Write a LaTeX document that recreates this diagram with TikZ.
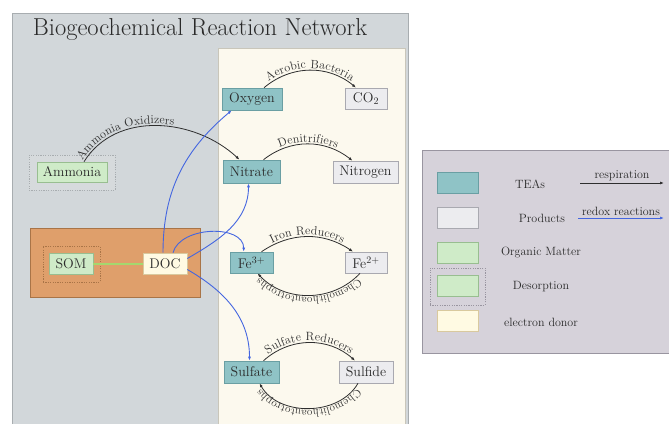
\documentclass[tikz,border=0pt]{standalone}
\usetikzlibrary{arrows.meta,decorations.text}
\definecolor{panelfill}{HTML}{D2D7DA}
\definecolor{panelborder}{HTML}{A8ADB0}
\definecolor{creamfill}{HTML}{FCF9EE}
\definecolor{creamborder}{HTML}{C9C6BA}
\definecolor{teafill}{HTML}{8FC3C6}
\definecolor{teaborder}{HTML}{6A9FA3}
\definecolor{prodfill}{HTML}{ECECEF}
\definecolor{prodborder}{HTML}{A9A9B0}
\definecolor{orgfill}{HTML}{CFEBC8}
\definecolor{orgborder}{HTML}{98BE90}
\definecolor{orangefill}{HTML}{DF9F6B}
\definecolor{orangeborder}{HTML}{A97447}
\definecolor{docfill}{HTML}{FFFAE3}
\definecolor{docborder}{HTML}{D9C99E}
\definecolor{legfill}{HTML}{D6D2DA}
\definecolor{legborder}{HTML}{9995A0}
\definecolor{blueline}{HTML}{4466E0}
\definecolor{greenline}{HTML}{A4D86E}
\definecolor{arcgray}{HTML}{2E2E2E}
\definecolor{txt}{HTML}{2A2A2A}
\definecolor{grpfill}{HTML}{D6DADC}
\newcommand{\nodefont}{\fontsize{14}{16}\selectfont}
\newcommand{\arcfont}{\fontsize{12}{14}\selectfont}
\newcommand{\chemofont}{\fontsize{11}{13}\selectfont}
\newcommand{\legfont}{\fontsize{12}{14}\selectfont}
\begin{document}
\begin{tikzpicture}[x=1pt,y=1pt,
  box/.style={draw, line width=0.6pt, inner sep=0pt, font=\nodefont, text=txt},
  tea/.style={box, fill=teafill, draw=teaborder},
  prod/.style={box, fill=prodfill, draw=prodborder},
  org/.style={box, fill=orgfill, draw=orgborder},
  donor/.style={box, fill=docfill, draw=docborder},
  grp/.style={draw=#1, dash pattern=on 1.2pt off 1.2pt, line width=0.5pt, inner sep=0pt},
  panel/.style={inner sep=0pt, line width=0.8pt},
  resp/.style={draw=arcgray, line width=0.8pt, -{Latex[length=4pt,width=3pt]}},
  redox/.style={draw=blueline, line width=0.9pt, -{Latex[length=4pt,width=3pt]}},
  lbl/.style args={#1/#2}{postaction={decorate,decoration={text along path,
     raise=2pt, text color=arcgray,
     text align={align=#2},
     text={|\arcfont|#1}}}},
  lblc/.style={postaction={decorate,decoration={text along path,
     raise=2pt, text color=arcgray,
     text align={align=center},
     text={|\chemofont|#1}}}},
  legtext/.style={font=\legfont, text=txt, inner sep=1pt},
]
\useasboundingbox (0,0) rectangle (669,-423);
\clip (0,0) rectangle (669,-423);

% panels
\node[panel, draw=panelborder, fill=panelfill, minimum width=396pt, minimum height=440pt] (main) at (210,-233) {};
\node[anchor=base, font=\fontsize{24.5}{29}\selectfont, text=txt] (title) at (200,-35) {Biogeochemical Reaction Network};
\node[panel, draw=creamborder, fill=creamfill, minimum width=187pt, minimum height=400pt] (cream) at (311.5,-248) {};

% sediment box
\node[draw=orangeborder, fill=orangefill, line width=0.7pt, minimum width=170pt, minimum height=69pt, inner sep=0pt] (sed) at (115,-262.5) {};
\node[grp=orangeborder, minimum width=57pt, minimum height=36pt] (somgrp) at (71.5,-264) {};
\node[org, minimum width=44pt, minimum height=21pt] (som) at (71,-263.5) {SOM};
\node[donor, minimum width=44pt, minimum height=21pt] (doc) at (165,-263.5) {DOC};

% ammonia group
\node[grp=panelborder, fill=grpfill, minimum width=86pt, minimum height=35pt] (ammgrp) at (72,-172.5) {};
\node[org, minimum width=70pt, minimum height=20pt] (amm) at (72,-172) {Ammonia};

% species
\node[tea, minimum width=60pt, minimum height=22pt] (oxy) at (252,-99) {Oxygen};
\node[prod, minimum width=42pt, minimum height=21pt] (co2) at (366,-98.5) {CO$_2$};
\node[tea, minimum width=57pt, minimum height=23pt] (nit) at (251.5,-171.5) {Nitrate};
\node[prod, minimum width=65pt, minimum height=22pt] (nitro) at (365.5,-172) {Nitrogen};
\node[tea, minimum width=43pt, minimum height=21pt] (fe3) at (251.5,-262.5) {Fe$^{3+}$};
\node[prod, minimum width=42pt, minimum height=21pt] (fe2) at (366,-262.5) {Fe$^{2+}$};
\node[tea, minimum width=55pt, minimum height=22pt] (sulfate) at (251.5,-372) {Sulfate};
\node[prod, minimum width=54pt, minimum height=22pt] (sulfide) at (366,-372) {Sulfide};

% desorption
\draw[greenline, line width=2pt] (som) -- (doc);

% respiration arcs
\draw[resp, lbl={Aerobic Bacteria/center}] ([xshift=12pt]oxy.north) to[out=40,in=140] ([xshift=-10pt]co2.north);
\draw[resp, lbl={Ammonia Oxidizers/left}] ([xshift=12pt]amm.north) to[out=58,in=137] ([xshift=-12pt]nit.north);
\draw[resp, lbl={Denitrifiers/center}] ([xshift=12pt]nit.north) to[out=38,in=142] ([xshift=-13pt]nitro.north);
\draw[resp, lbl={Iron Reducers/center}] ([xshift=10pt]fe3.north) to[out=34,in=146] ([xshift=-13pt]fe2.north);
\draw[resp, lblc={Chemolithoautotrophs}] ([xshift=-6pt]fe2.south) to[out=-133,in=-47] ([xshift=6pt]fe3.south);
\draw[resp, lbl={Sulfate Reducers/center}] ([xshift=12pt]sulfate.north) to[out=42,in=138] ([xshift=-11pt]sulfide.north);
\draw[resp, lblc={Chemolithoautotrophs}] ([xshift=-8pt]sulfide.south) to[out=-120,in=-60] ([xshift=8pt]sulfate.south);

% redox arrows from DOC
\draw[redox] ([xshift=-2pt]doc.north) to[out=90,in=-140] ([xshift=10pt]oxy.south west);
\draw[redox] ([yshift=5pt]doc.east) to[out=30,in=-90] ([xshift=-3pt]nit.south);
\draw[redox] ([xshift=8pt]doc.north) to[out=75,in=90] ([xshift=14pt]fe3.north west);
\draw[redox] ([yshift=-6pt]doc.east) to[out=-30,in=90] ([xshift=-2pt]sulfate.north);

% legend
\node[draw=legborder, fill=legfill, line width=0.7pt, minimum width=268pt, minimum height=203pt, inner sep=0pt] (legend) at (556,-251.5) {};
\node[tea, minimum width=41pt, minimum height=21pt] (lgtea) at (457.5,-182.5) {};
\node[prod, minimum width=41pt, minimum height=21pt] (lgprod) at (457.5,-217.5) {};
\node[org, minimum width=41pt, minimum height=21pt] (lgorg) at (457.5,-252.5) {};
\node[grp=legborder, minimum width=55pt, minimum height=37pt] (lgdesgrp) at (457.5,-286.5) {};
\node[org, minimum width=41pt, minimum height=21pt] (lgdes) at (457.5,-286) {};
\node[donor, minimum width=41pt, minimum height=21pt] (lgdon) at (457.5,-321) {};
\node[legtext] (ltea) at (530,-184) {TEAs};
\node[legtext] (lprod) at (542,-218) {Products};
\node[legtext] (lorg) at (541,-253) {Organic Matter};
\node[legtext] (ldes) at (541,-287) {Desorption};
\node[legtext] (ldon) at (541,-322) {electron donor};
\coordinate (r1) at (580,-183);
\coordinate (r2) at (664,-183);
\coordinate (b1) at (578,-218);
\coordinate (b2) at (664,-218);
\draw[resp] (r1) -- node[legtext, above, inner sep=1.5pt] (lresp) {respiration} (r2);
\draw[redox] (b1) -- node[legtext, above, inner sep=1.5pt] (lredox) {redox reactions} (b2);
\end{tikzpicture}
\end{document}
